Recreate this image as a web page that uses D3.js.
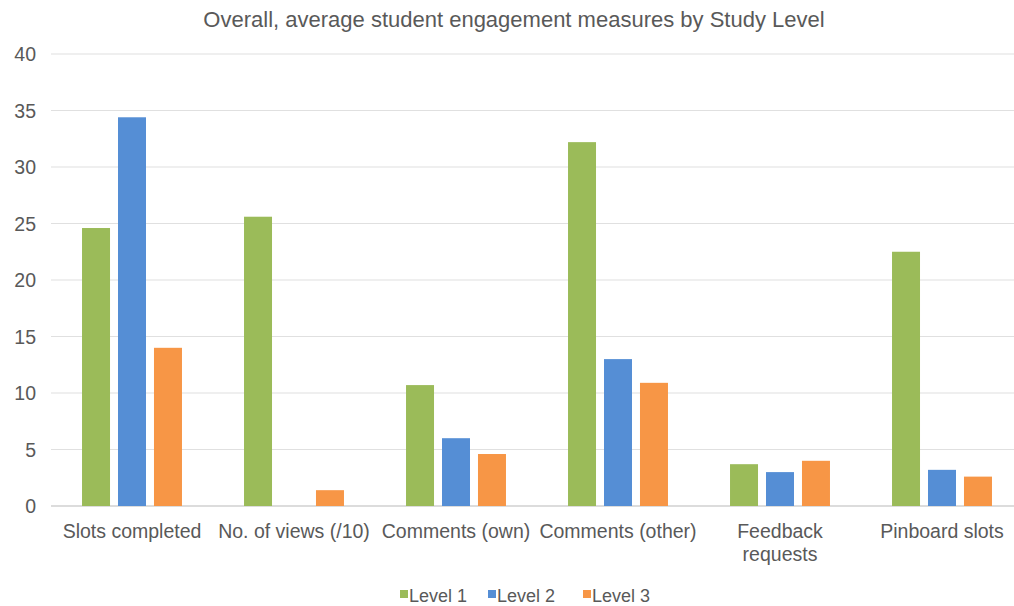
<!DOCTYPE html>
<html>
<head>
<meta charset="utf-8">
<script src="https://cdn.jsdelivr.net/npm/d3@7"></script>
<style>
  html, body { margin: 0; padding: 0; background: #fff; }
  svg { display: block; font-family: "Liberation Sans", Arial, Helvetica, sans-serif; }
</style>
</head>
<body>
<svg id="chart" width="1014" height="606"></svg>
<script>
const categories = ["Slots completed", "No. of views (/10)", "Comments (own)", "Comments (other)", "Feedback requests", "Pinboard slots"];
const seriesNames = ["Level 1", "Level 2", "Level 3"];
const level1 = [24.6, 25.6, 10.7, 32.2, 3.7, 22.5];
const level2 = [34.4, 0, 6.0, 13.0, 3.0, 3.2];
const level3 = [14.0, 1.4, 4.6, 10.9, 4.0, 2.6];
const yTicks = [0, 5, 10, 15, 20, 25, 30, 35, 40];
const colors = ["#9BBB59", "#558ED5", "#F79646"];
const title = "Overall, average student engagement measures by Study Level";

const seriesValues = [level1, level2, level3];
const svg = d3.select("#chart");
const W = 1014, H = 606;
const plotLeft = 51, plotRightEnd = 1023, plotTop = 54, plotBottom = 506;

const x0 = d3.scaleBand().domain(categories).range([plotLeft, plotRightEnd]).paddingInner(0.383).paddingOuter(0.1915);
const x1 = d3.scaleBand().domain(seriesNames).range([0, x0.bandwidth()]).paddingInner(0.222).paddingOuter(0);
const y = d3.scaleLinear().domain([0, 40]).range([plotBottom, plotTop]);

// gridlines
svg.append("g").selectAll("line").data(yTicks).join("line")
  .attr("x1", plotLeft).attr("x2", W)
  .attr("y1", d => y(d)).attr("y2", d => y(d))
  .attr("stroke", d => d === 0 ? "#d0d0d0" : "#e0e0e0")
  .attr("stroke-width", d => d === 0 ? 1.5 : 1.2);

// y axis labels
const yAxis = d3.axisLeft(y).tickValues(yTicks).tickSize(0).tickPadding(0);
const yg = svg.append("g").attr("transform", `translate(36,0)`).call(yAxis);
yg.select(".domain").remove();
yg.selectAll("text").attr("fill", "#595959").attr("font-size", 19.5).attr("dy", "0.35em")
  .style("font-family", "'Liberation Sans', Arial, sans-serif");

// bars
const groups = svg.append("g").selectAll("g").data(categories).join("g")
  .attr("transform", d => `translate(${x0(d)},0)`);
groups.selectAll("rect").data((c, i) => seriesNames.map((s, j) => ({ s, v: seriesValues[j][i], j })))
  .join("rect")
  .attr("x", d => x1(d.s))
  .attr("width", x1.bandwidth())
  .attr("y", d => y(d.v))
  .attr("height", d => y(0) - y(d.v))
  .attr("fill", d => colors[d.j]);

// x axis labels
const xAxis = d3.axisBottom(x0).tickSize(0).tickPadding(0);
const xg = svg.append("g").attr("transform", `translate(0,${plotBottom})`).call(xAxis);
xg.select(".domain").remove();
xg.selectAll("text").remove();
xg.selectAll(".tick").each(function(d) {
  const t = d3.select(this).append("text")
    .attr("fill", "#595959").attr("font-size", 19.5).attr("text-anchor", "middle");
  const lines = d === "Feedback requests" ? ["Feedback", "requests"] : [d];
  lines.forEach((ln, k) => {
    t.append("tspan").attr("x", 0).attr("y", 32 + k * 23).text(ln);
  });
});

// title
svg.append("text").attr("x", 514).attr("y", 27).attr("text-anchor", "middle")
  .attr("fill", "#595959").attr("font-size", 22).text(title);

// legend
const legendX = [400, 488, 583];
const lg = svg.append("g").selectAll("g").data(seriesNames).join("g")
  .attr("transform", (d, i) => `translate(${legendX[i]},590)`);
lg.append("rect").attr("width", 8).attr("height", 8).attr("y", 0).attr("fill", (d, i) => colors[i]);
lg.append("text").attr("x", 9).attr("y", 12).attr("fill", "#595959").attr("font-size", 18).text(d => d);
</script>
</body>
</html>
